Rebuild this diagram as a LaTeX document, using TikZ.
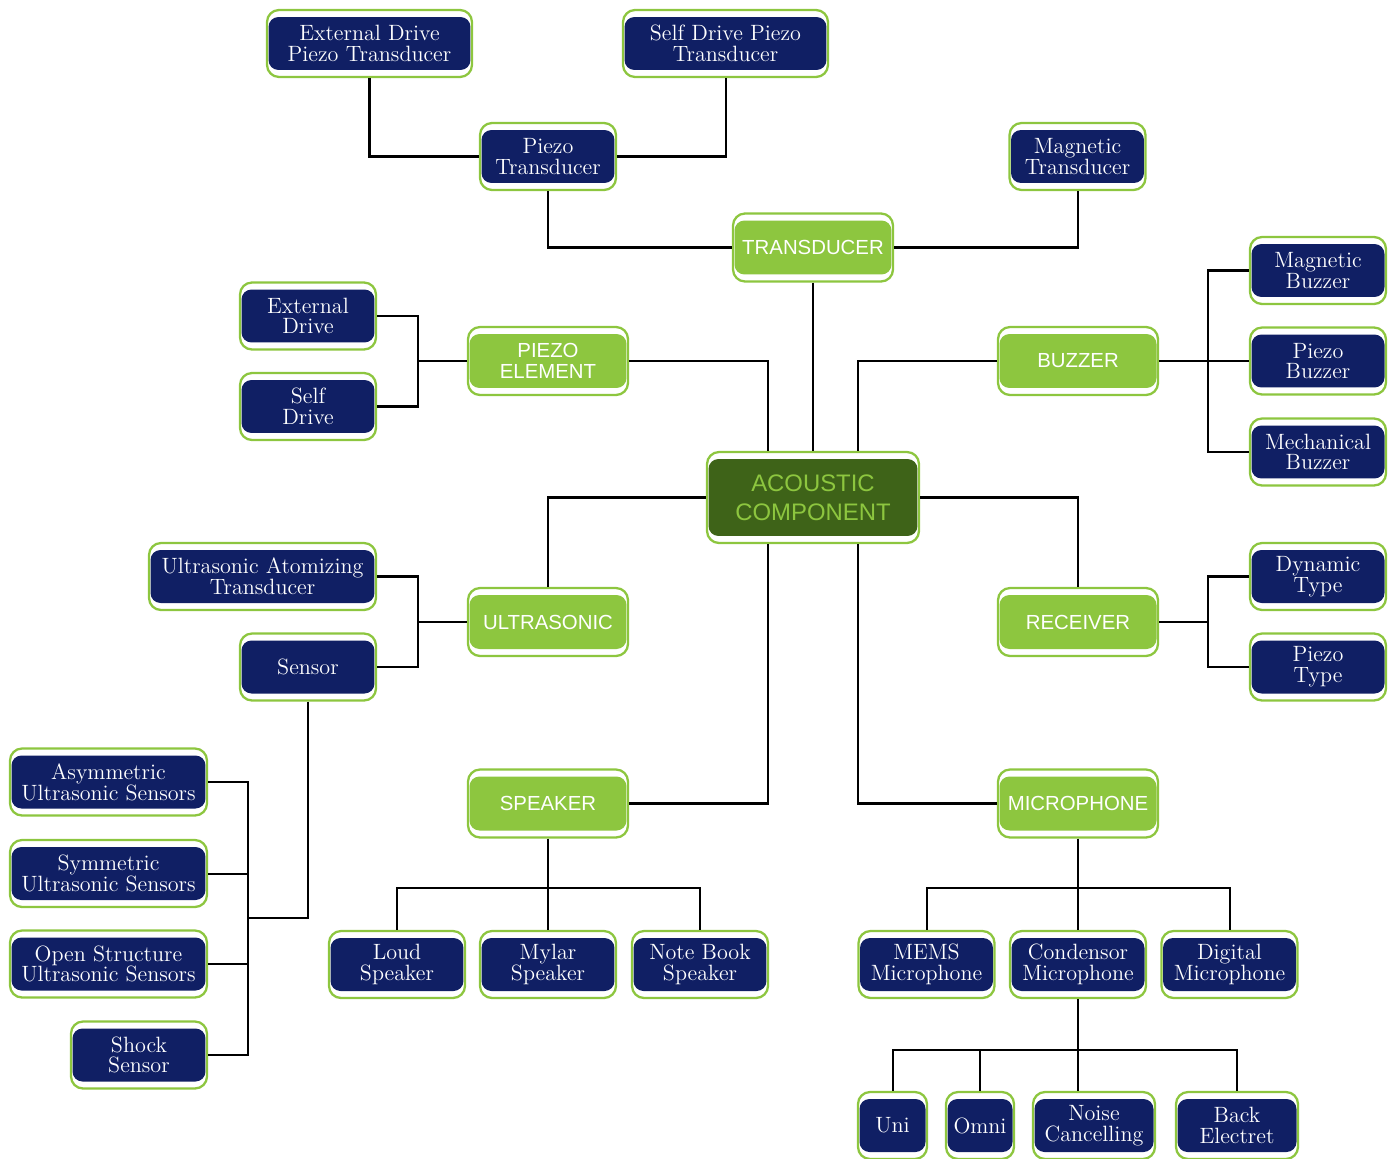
\documentclass[tikz,border=0pt]{standalone}
\usepackage{fontspec}
\setsansfont{Liberation Sans}
\usepackage{tikz}

\definecolor{navy}{HTML}{101F64}
\definecolor{lgreen}{HTML}{8DC63F}
\definecolor{dgreen}{HTML}{3E6318}

\begin{document}
\begin{tikzpicture}[x=0.02cm,y=-0.02cm,line width=1.15pt,
    box/.style={draw=lgreen,line width=1.3pt,fill=white,rounded corners=0.24cm,
      inner sep=0pt,align=center,
      path picture={\fill[#1,rounded corners=0.2cm]
        ([xshift=0.03cm,yshift=-0.14cm]path picture bounding box.north west) rectangle
        ([xshift=-0.03cm,yshift=0.14cm]path picture bounding box.south east);}},
    leaf/.style={box=navy,text=white,font=\fontsize{12.6}{11.8}\selectfont,
      minimum width=2.72cm,minimum height=1.34cm},
    cat/.style={box=lgreen,text=white,font=\sffamily\fontsize{11.6}{12}\selectfont,
      minimum width=3.2cm,minimum height=1.36cm}]

\useasboundingbox (0,0) rectangle (1399,1159);

% centre
\node[box=dgreen,text=lgreen,font=\sffamily\fontsize{13.6}{16.4}\selectfont,
  minimum width=4.24cm,minimum height=1.82cm] (acoustic) at (813,497.5)
  {\raisebox{-0.05cm}{\parbox{4cm}{\centering ACOUSTIC\\COMPONENT}}};

% groups
\node[cat] (trans)    at (813,247.5) {TRANSDUCER};
\node[cat] (piezoEl)  at (548,361)   {PIEZO\\ELEMENT};
\node[cat] (buzzer)   at (1078,361)  {BUZZER};
\node[cat] (ultra)    at (548,622)   {ULTRASONIC};
\node[cat] (receiver) at (1078,622)  {RECEIVER};
\node[cat] (speaker)  at (548,803.5) {SPEAKER};
\node[cat] (mic)      at (1078,803.5) {MICROPHONE};

% transducer
\node[leaf,minimum width=4.1cm] (extPiezo)  at (369.5,43.5) {External Drive\\Piezo Transducer};
\node[leaf,minimum width=4.1cm] (selfPiezo) at (725.5,43.5) {Self Drive Piezo\\Transducer};
\node[leaf] (piezoT) at (548,156.5)  {Piezo\\Transducer};
\node[leaf] (magT)   at (1077.5,156.5) {Magnetic\\Transducer};

% piezo element
\node[leaf] (extDrive)  at (308,316)   {External\\Drive};
\node[leaf] (selfDrive) at (308,406.5) {Self\\Drive};

% buzzer
\node[leaf] (magBuzzer)   at (1318,270.5) {Magnetic\\Buzzer};
\node[leaf] (piezoBuzzer) at (1318,361)   {Piezo\\Buzzer};
\node[leaf] (mechBuzzer)  at (1318,452)   {Mechanical\\Buzzer};

% ultrasonic
\node[leaf,minimum width=4.54cm] (ultraAtom) at (262.5,576.5) {Ultrasonic Atomizing\\Transducer};
\node[leaf] (sensor) at (308,667) {Sensor};
\node[leaf,minimum width=3.94cm] (asym) at (108.5,782)   {Asymmetric\\Ultrasonic Sensors};
\node[leaf,minimum width=3.94cm] (sym)  at (108.5,873.5) {Symmetric\\Ultrasonic Sensors};
\node[leaf,minimum width=3.94cm] (open) at (108.5,964)   {Open Structure\\Ultrasonic Sensors};
\node[leaf] (shock) at (139,1055) {Shock\\Sensor};

% receiver
\node[leaf] (dynamic)   at (1318,576.5) {Dynamic\\Type};
\node[leaf] (piezoType) at (1318,667)   {Piezo\\Type};

% speaker
\node[leaf] (loud)     at (397,964.5) {Loud\\Speaker};
\node[leaf] (mylar)    at (548,964.5) {Mylar\\Speaker};
\node[leaf] (notebook) at (700,964.5) {Note Book\\Speaker};

% microphone
\node[leaf] (mems)      at (926.5,964.5)  {MEMS\\Microphone};
\node[leaf] (condensor) at (1078,964.5)   {Condensor\\Microphone};
\node[leaf] (digital)   at (1229.5,964.5) {Digital\\Microphone};
\node[leaf,minimum width=1.38cm] (uni)   at (892.5,1125.5) {Uni};
\node[leaf,minimum width=1.36cm] (omni)  at (980,1125.5)   {Omni};
\node[leaf,minimum width=2.44cm] (noise) at (1094,1125.5)  {Noise\\Cancelling};
\node[leaf,minimum width=2.44cm] (back)  at (1237,1125.5)  {Back\\Electret};

% junctions
\coordinate (pj)  at (418,361);
\coordinate (uj)  at (418,622);
\coordinate (bj)  at (1208,361);
\coordinate (rj)  at (1208,622);
\coordinate (sj)  at (248,918);
\coordinate (spj) at (548,888);
\coordinate (mj)  at (1078,888);
\coordinate (cj)  at (1078,1050);

% connectors
\draw (extPiezo.south) |- (piezoT.west);
\draw (selfPiezo.south) |- (piezoT.east);
\draw (piezoT.south) |- (trans.west);
\draw (magT.south) |- (trans.east);
\draw (trans.south) -- (acoustic.north);

\draw (piezoEl.east) -| ([xshift=-0.9cm]acoustic.north);
\draw (buzzer.west) -| ([xshift=0.9cm]acoustic.north);
\draw (acoustic.west) -| (ultra.north);
\draw (acoustic.east) -| (receiver.north);
\draw ([xshift=-0.9cm]acoustic.south) |- (speaker.east);
\draw ([xshift=0.9cm]acoustic.south) |- (mic.west);

\draw (extDrive.east) -| (pj) |- (selfDrive.east);
\draw (pj) -- (piezoEl.west);
\draw (magBuzzer.west) -| (bj) |- (mechBuzzer.west);
\draw (buzzer.east) -- (piezoBuzzer.west);

\draw (ultraAtom.east) -| (uj) |- (sensor.east);
\draw (uj) -- (ultra.west);
\draw (dynamic.west) -| (rj) |- (piezoType.west);
\draw (receiver.east) -- (rj);

\draw (sensor.south) |- (sj);
\draw (asym.east) -| (sj) |- (shock.east);
\draw (sym.east) -- (sym.east -| sj);
\draw (open.east) -- (open.east -| sj);

\draw (loud.north) |- (spj) -| (notebook.north);
\draw (speaker.south) -- (mylar.north);
\draw (mems.north) |- (mj) -| (digital.north);
\draw (mic.south) -- (condensor.north);
\draw (uni.north) |- (cj) -| (back.north);
\draw (omni.north) -- (omni.north |- cj);
\draw (condensor.south) -- (condensor.south |- noise.north);

\end{tikzpicture}
\end{document}
